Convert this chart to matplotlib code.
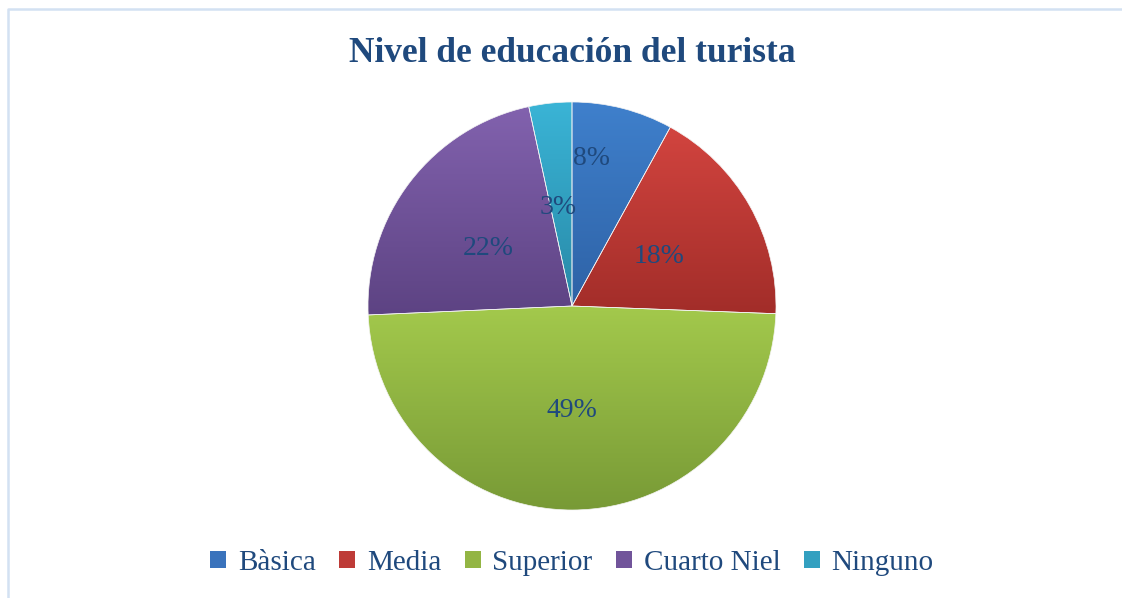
import numpy as np
import matplotlib
matplotlib.use("Agg")
import matplotlib.pyplot as plt
from matplotlib.lines import Line2D
from matplotlib.patches import Patch
from matplotlib.colors import to_rgb

# data (percent of tourists)
categories = ['Bàsica', 'Media', 'Superior', 'Cuarto Niel', 'Ninguno']
shares = [8.0, 17.6, 48.7, 22.3, 3.4]
title = 'Nivel de educación del turista'

# top / bottom colours of each slice gradient
top_colors = ['#3F80CC', '#D2443F', '#A3C94C', '#8262AE', '#3AB4D6']
bottom_colors = ['#2E62A6', '#A22D29', '#789A36', '#5D4383', '#2889A7']
mid_colors = ['#3A73BC', '#BE3B37', '#93B544', '#71549A', '#33A0C0']
text_color = '#1F497D'

# label placement (fraction of radius, angle shift in deg)
label_r = [0.73, 0.49, 0.51, 0.50, 0.49]
label_shift = [7.0, 0.0, 0.0, 3.0, 2.0]

plt.rcParams['font.family'] = ['Liberation Serif', 'DejaVu Serif']

fig = plt.figure(figsize=(11.22, 5.98), dpi=100)
W, H = 1122, 598
cx, cy, r = 572, 306, 204
ax = fig.add_axes([(cx - r) / W, (H - cy - r) / H, 2 * r / W, 2 * r / H])

wedges, _ = ax.pie(shares, startangle=90, counterclock=False, radius=1,
                   wedgeprops=dict(edgecolor='#F4F4F4', linewidth=0.5))

for i, w in enumerate(wedges):
    w.set_facecolor('none')
    w.set_zorder(3)
    verts = w.get_path().vertices
    x0, x1 = verts[:, 0].min(), verts[:, 0].max()
    y0, y1 = verts[:, 1].min(), verts[:, 1].max()
    t = np.linspace(0, 1, 200)[:, None]
    c0 = np.array(to_rgb(top_colors[i]))
    c1 = np.array(to_rgb(bottom_colors[i]))
    grad = (c0 * (1 - t) + c1 * t)[:, None, :]
    im = ax.imshow(grad, extent=(x0, x1, y0, y1), aspect='auto',
                   origin='upper', zorder=2, interpolation='bilinear')
    im.set_clip_path(w)

    mid = np.deg2rad((w.theta1 + w.theta2) / 2 + label_shift[i])
    ax.text(label_r[i] * np.cos(mid), label_r[i] * np.sin(mid),
            f'{shares[i]:.0f}%', ha='center', va='center',
            fontsize=20, color=text_color, zorder=4)

ax.set_xlim(-1, 1)
ax.set_ylim(-1, 1)
ax.set_aspect('auto')
ax.axis('off')

fig.text(cx / W, 1 - 54 / H, title, ha='center', va='center',
         fontsize=25.5, fontweight='bold', color=text_color)

handles = [Patch(facecolor=c, edgecolor='none') for c in mid_colors]
leg = fig.legend(handles, categories, loc='center', ncol=5,
                 bbox_to_anchor=(cx / W, 1 - 563 / H), frameon=False,
                 fontsize=21, handlelength=0.55, handleheight=0.55,
                 handletextpad=0.4, columnspacing=0.8)
for txt in leg.get_texts():
    txt.set_color(text_color)

# chart border (only left and top visible in the crop)
bx, by = 7.5 / W, 1 - 8.5 / H
fig.add_artist(Line2D([bx, bx, 1], [0, by, by], transform=fig.transFigure,
                      color='#D3E1F2', linewidth=1.8))

fig.savefig('out.png', dpi=100)
